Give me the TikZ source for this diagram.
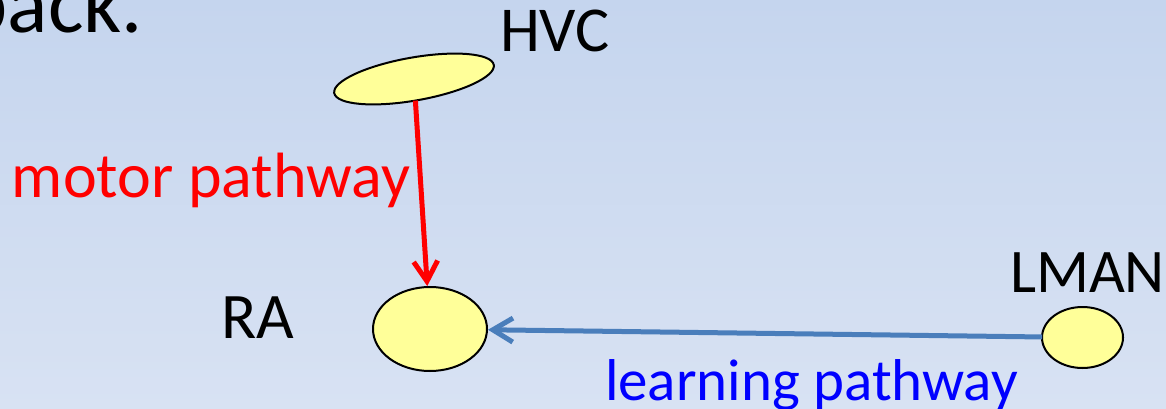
\documentclass[tikz,border=0pt]{standalone}
\usepackage{fontspec}
\setmainfont{Carlito}
\usetikzlibrary{shapes.geometric,arrows.meta}
\definecolor{bgtop}{RGB}{197,213,238}
\definecolor{bgbot}{RGB}{216,226,243}
\definecolor{nucfill}{RGB}{255,255,153}
\definecolor{learnline}{RGB}{74,126,187}
\definecolor{learntext}{RGB}{0,0,255}
\tikzset{
  nucleus/.style={ellipse, draw=black, line width=2pt, fill=nucfill, inner sep=0pt, outer sep=0pt},
  lbl/.style={inner sep=0pt, outer sep=0pt},
  path arrow/.style={line width=5pt, -{Straight Barb[length=20pt,width=24pt,line width=5pt]}, shorten >=1pt},
}
\begin{document}
\begin{tikzpicture}[x=1pt,y=-1pt]
\useasboundingbox (0,0) rectangle (1166,409);
\clip (0,0) rectangle (1166,409);
\shade[top color=bgtop, bottom color=bgbot] (0,0) rectangle (1166,409);
% nuclei
\node[nucleus, minimum width=162pt, minimum height=43pt, rotate=10] (hvc) at (414,79) {};
\node[nucleus, minimum width=114pt, minimum height=84pt] (ra) at (430,329) {};
\node[nucleus, minimum width=81pt, minimum height=61pt] (lman) at (1082.5,337.5) {};
% labels
\node[lbl, anchor=base east, font=\fontsize{84}{100}\selectfont] (back) at (143,33) {back.};
\node[lbl, anchor=base west, font=\fontsize{64}{76}\selectfont] (hvclbl) at (500,52) {HVC};
\node[lbl, anchor=base west, font=\fontsize{65}{78}\selectfont] (ralbl) at (221,338) {RA};
\node[lbl, anchor=base west, font=\fontsize{62}{74}\selectfont] (lmanlbl) at (1010,292) {LMAN};
\node[lbl, anchor=base west, text=red, font=\fontsize{64}{76}\selectfont] (motor) at (12,197) {motor pathway};
\node[lbl, anchor=base west, text=learntext, font=\fontsize{59}{70}\selectfont] (learn) at (605,400) {learning pathway};
% pathways
\draw[path arrow, red] (hvc) -- (ra);
\draw[path arrow, learnline] (lman) -- (ra);
\end{tikzpicture}
\end{document}
